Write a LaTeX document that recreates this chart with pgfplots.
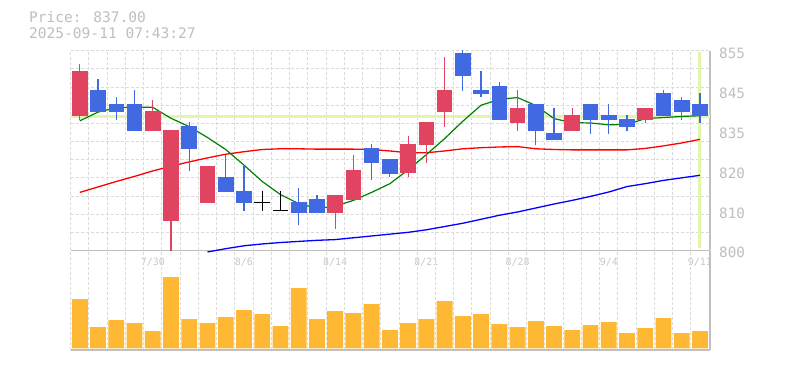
\documentclass[border=0pt]{standalone}
\usepackage{pgfplots}
\pgfplotsset{compat=1.18}
\usepackage{pgfplotstable}
\usepackage{fontspec}
\newfontfamily\mono{DejaVu Sans Mono}

\definecolor{upc}{RGB}{224,68,96}
\definecolor{downc}{RGB}{65,105,225}
\definecolor{volc}{RGB}{255,184,51}
\definecolor{gridc}{RGB}{218,218,218}
\definecolor{axc}{RGB}{192,192,192}
\definecolor{txtc}{RGB}{190,190,190}
\definecolor{xtxt}{RGB}{200,200,200}
\definecolor{hlc}{RGB}{226,246,170}
\definecolor{maA}{RGB}{0,128,0}
\definecolor{maB}{RGB}{255,0,0}
\definecolor{maC}{RGB}{0,0,255}

% up candles (close > open)
\pgfplotstableread{
i o h l c
0 837.0 851.3 835.9 849.4
4 833.0 841.4 833.0 838.4
5 808.2 833.2 800.0 833.2
7 813.1 823.3 813.1 823.3
14 810.2 815.3 806.0 815.3
15 814.0 826.3 814.0 822.2
18 821.3 831.4 820.2 829.3
19 829.1 835.4 824.2 835.4
20 838.2 853.2 834.1 844.2
24 835.2 844.2 833.0 839.2
27 833.0 839.2 833.0 837.3
31 835.9 839.2 835.2 839.2
}\uptable

% down candles (close < open)
\pgfplotstableread{
i o h l c
1 844.2 847.1 838.2 838.2
2 840.3 842.3 835.9 838.2
3 840.3 844.2 833.0 833.0
6 834.3 835.4 822.0 828.0
8 820.3 826.3 816.1 816.1
9 816.4 823.3 811.0 813.2
12 813.4 817.3 807.1 810.2
13 814.2 815.3 810.2 810.2
16 828.2 829.3 819.3 824.2
17 825.2 825.2 820.1 821.1
21 854.3 855.2 844.0 848.1
22 844.2 849.4 842.2 843.2
23 845.3 846.4 836.0 836.0
25 840.3 840.3 829.1 833.0
26 832.4 839.2 830.3 830.3
28 840.3 840.3 832.1 835.9
29 837.3 840.3 832.1 835.9
30 836.2 837.3 833.0 834.1
32 843.4 844.2 837.0 837.0
33 841.4 842.3 835.9 838.1
34 840.3 843.4 835.2 837.0
}\downtable

% doji candles (open = close)
\pgfplotstableread{
i o h l c
10 813.3 816.4 811.0 813.3
11 811.1 816.4 811.1 811.1
}\dojitable

\pgfplotstableread{
i v
0 835.7
1 838.1
2 839.3
3 839.5
4 839.4
5 836.4
6 834.1
7 831.1
8 827.8
9 823.5
10 819.0
11 815.4
12 812.9
13 811.6
14 812.2
15 813.8
16 816.0
17 818.4
18 822.2
19 826.4
20 830.8
21 835.6
22 840.0
23 841.6
24 842.1
25 839.9
26 836.3
27 835.2
28 835.1
29 834.6
30 834.7
31 836.3
32 836.6
33 836.9
34 837.1
}\maAtable

\pgfplotstableread{
i v
0 816.0
1 817.5
2 819.0
3 820.4
4 821.9
5 823.2
6 824.4
7 825.5
8 826.5
9 827.2
10 827.8
11 828.0
12 828.0
13 827.9
14 827.9
15 827.9
16 827.8
17 827.4
18 826.9
19 826.9
20 827.4
21 828.0
22 828.3
23 828.5
24 828.6
25 828.0
26 827.8
27 827.7
28 827.7
29 827.7
30 827.7
31 828.1
32 828.8
33 829.6
34 830.6
}\maBtable

\pgfplotstableread{
i v
7 799.6
8 800.5
9 801.3
10 801.8
11 802.2
12 802.5
13 802.8
14 803.0
15 803.5
16 804.0
17 804.5
18 805.0
19 805.7
20 806.6
21 807.5
22 808.6
23 809.7
24 810.6
25 811.7
26 812.8
27 813.8
28 814.9
29 816.1
30 817.6
31 818.4
32 819.3
33 820.0
34 820.7
}\maCtable

\pgfplotstableread{
i v
0 49.3
1 21.3
2 28.3
3 25.3
4 17.3
5 71.3
6 29.3
7 25.3
8 31.3
9 38.3
10 34.3
11 22.3
12 60.3
13 29.3
14 37.3
15 35.3
16 44.3
17 18.3
18 25.3
19 29.3
20 47.3
21 32.3
22 34.3
23 24.3
24 21.3
25 27.3
26 22.3
27 18.3
28 23.3
29 26.3
30 15.3
31 20.3
32 30.3
33 15.3
34 17.3
}\voltable

\pgfplotsset{
  panel/.style={
    scale only axis, width=639.3bp, anchor=south west,
    xmin=-0.5, xmax=34.55,
    axis x line*=bottom, axis y line*=right,
    axis line style={axc, line width=1.3bp},
    xtick={-0.5,0.5,...,34.5}, xticklabels={},
    major tick length=0pt,
    xmajorgrids,
    major grid style={gridc, line width=1bp, dash pattern=on 3bp off 2bp},
  },
  wick/.style={draw=none, mark=none, forget plot,
    error bars/.cd, y dir=both, y explicit, error mark=none,
    error bar style={draw=#1, line width=1.2bp, solid}},
  body/.style={draw=none, mark=none, forget plot,
    error bars/.cd, y dir=both, y explicit, error mark=none,
    error bar style={draw=#1, line width=15.6bp, solid}},
}

\begin{document}
\begin{tikzpicture}
\useasboundingbox (0bp,0bp) rectangle (785bp,370bp);

\node[anchor=base west, inner sep=0pt, text=txtc, font=\mono\fontsize{14.6}{14.6}\selectfont] at (29bp,347.3bp) {Price: 837.00};
\node[anchor=base west, inner sep=0pt, text=txtc, font=\mono\fontsize{14.6}{14.6}\selectfont] at (29bp,331.7bp) {2025-09-11 07:43:27};

\begin{axis}[panel, at={(70.7bp,119.5bp)}, height=199.8bp,
  ymin=800, ymax=855,
  ytick={800,805,...,855}, yticklabels={}, ymajorgrids,
  extra y ticks={800,811,822,833,844,855},
  extra y tick labels={800,810,820,835,845,855},
  extra y tick style={grid=none, yticklabel style={anchor=west, inner sep=0pt, xshift=9bp, yshift=-2.3bp, font=\mono\fontsize{14.3}{14.3}\selectfont, text=txtc}},
  extra x ticks={4,9,14,19,24,29,34},
  extra x tick labels={7/30,8/6,8/14,8/21,8/28,9/4,9/11},
  extra x tick style={grid=none, xticklabel style={anchor=base, inner sep=0pt, yshift=-15.5bp, font=\mono\fontsize{10}{10}\selectfont, text=xtxt}},
  clip=false]
\addplot[hlc, line width=3bp, forget plot] coordinates {(-0.5,837) (34.55,837)};
\addplot[hlc, line width=3bp, forget plot] coordinates {(34,854.7) (34,800.6)};
\addplot[maC, line width=1.3bp, mark=none] table[x=i,y=v] \maCtable;
\addplot[maB, line width=1.3bp, mark=none] table[x=i,y=v] \maBtable;
\addplot[maA, line width=1.2bp, mark=none] table[x=i,y=v] \maAtable;
% wicks
\addplot[wick=upc] table[x=i, y expr={(\thisrow{h}+\thisrow{l})/2}, y error expr={(\thisrow{h}-\thisrow{l})/2}] \uptable;
\addplot[wick=downc] table[x=i, y expr={(\thisrow{h}+\thisrow{l})/2}, y error expr={(\thisrow{h}-\thisrow{l})/2}] \downtable;
\addplot[wick=black] table[x=i, y expr={(\thisrow{h}+\thisrow{l})/2}, y error expr={(\thisrow{h}-\thisrow{l})/2}] \dojitable;
% bodies
\addplot[body=upc] table[x=i, y expr={(\thisrow{o}+\thisrow{c})/2}, y error expr={abs(\thisrow{c}-\thisrow{o})/2}] \uptable;
\addplot[body=downc] table[x=i, y expr={(\thisrow{o}+\thisrow{c})/2}, y error expr={abs(\thisrow{c}-\thisrow{o})/2}] \downtable;
\addplot[draw=none, mark=none, forget plot,
    error bars/.cd, x dir=both, x fixed=0.43, error mark=none,
    error bar style={draw=black, line width=1.2bp, solid}]
  table[x=i, y=c] \dojitable;
\end{axis}

\begin{axis}[panel, at={(70.7bp,20bp)}, height=99.5bp,
  ymin=-1.7, ymax=97.8, ytick=\empty]
\addplot[ybar, bar width=0.87, fill=volc, draw=none] table[x=i,y=v] \voltable;
\end{axis}
\end{tikzpicture}
\end{document}
